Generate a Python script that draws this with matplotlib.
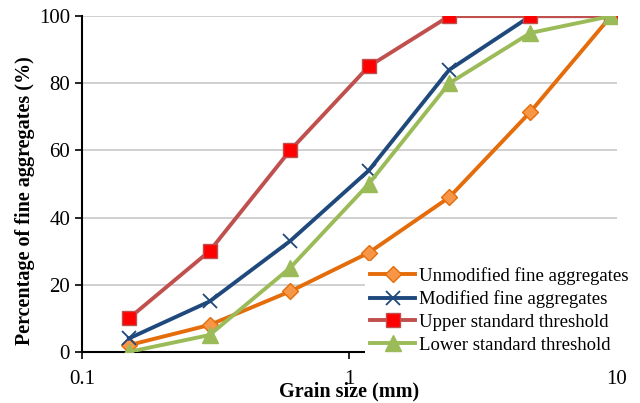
import numpy as np
import matplotlib.pyplot as plt
from matplotlib.ticker import FixedLocator, NullLocator

plt.rcParams['font.family'] = ['Liberation Serif', 'DejaVu Serif']

sizes = [0.15, 0.3, 0.6, 1.18, 2.36, 4.75, 9.5]
unmodified = [2, 8, 18, 29.5, 46, 71.5, 100]
modified = [4, 15, 33, 54, 84, 100, 100]
upper = [10, 30, 60, 85, 100, 100, 100]
lower = [0, 5, 25, 50, 80, 95, 100]

fig = plt.figure(figsize=(6.4, 4.03), dpi=100)
ax = fig.add_axes([0.128, 0.127, 0.836, 0.833])

ax.plot(sizes, unmodified, color='#E46C0A', lw=2.8, marker='D', ms=8.5,
        mfc='#F79646', mec='#E46C0A', mew=1, label='Unmodified fine aggregates', zorder=3)
ax.plot(sizes, modified, color='#1F497D', lw=2.8, marker='x', ms=10,
        mec='#1F497D', mew=1.3, label='Modified fine aggregates', zorder=3)
ax.plot(sizes, upper, color='#C0504D', lw=2.8, marker='s', ms=10,
        mfc='#FF0000', mec='#C0504D', mew=1, label='Upper standard threshold', zorder=3)
ax.plot(sizes, lower, color='#9BBB59', lw=2.8, marker='^', ms=11,
        mfc='#9BBB59', mec='#9BBB59', mew=1, label='Lower standard threshold', zorder=3)

ax.set_xscale('log')
ax.set_xlim(0.1, 10)
ax.set_ylim(0, 100)
ax.xaxis.set_major_locator(FixedLocator([0.1, 1, 10]))
ax.xaxis.set_minor_locator(NullLocator())
ax.set_xticklabels(['0.1', '1', '10'])
ax.set_yticks([0, 20, 40, 60, 80, 100])
ax.yaxis.grid(True, color='#C8C8C8', lw=1.2)
ax.set_axisbelow(True)
for s in ['top', 'right']:
    ax.spines[s].set_visible(False)
for s in ['left', 'bottom']:
    ax.spines[s].set_linewidth(1.5)
ax.tick_params(axis='both', direction='out', length=5, width=1.2, labelsize=15)
ax.tick_params(axis='x', pad=8)
ax.set_xlabel('Grain size (mm)', fontsize=14.5, fontweight='bold', labelpad=-5)
ax.set_ylabel('Percentage of fine aggregates (%)', fontsize=14.5, fontweight='bold')
ax.yaxis.set_label_coords(-0.088, 0.45)

leg = ax.legend(loc='lower right', bbox_to_anchor=(1.05, -0.05), fontsize=13.5, frameon=True,
                fancybox=False, edgecolor='none', facecolor='white', framealpha=1,
                handlelength=2.4, handletextpad=0.2, labelspacing=0.3, borderpad=0.3)

fig.savefig('out.png', dpi=100)
